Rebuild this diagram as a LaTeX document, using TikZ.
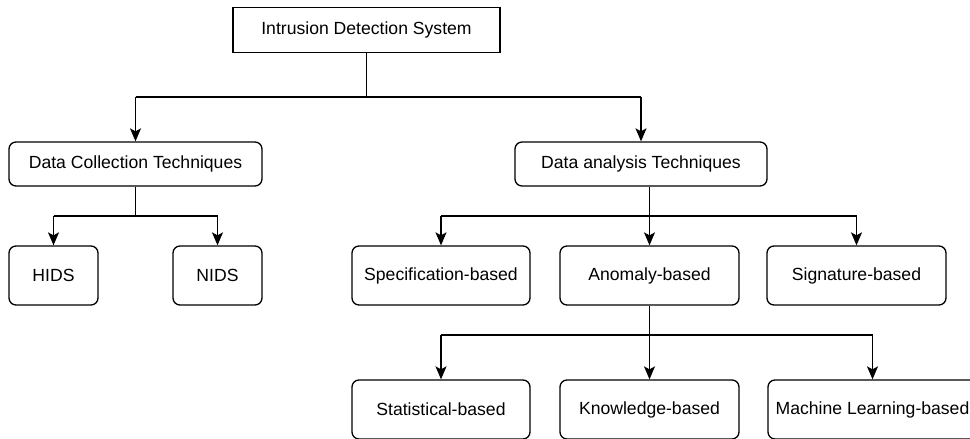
\documentclass[tikz,border=0pt]{standalone}
\usepackage{fontspec}
\setmainfont{Liberation Sans}
\usetikzlibrary{arrows.meta}
\begin{document}
\begin{tikzpicture}[x=1pt,y=-1pt,
  box/.style={draw, line width=1.3pt, inner sep=0pt, align=center,
    font=\fontsize{17.6}{20}\selectfont},
  rbox/.style={box, rounded corners=7pt},
  link/.style={line width=1.3pt},
  arrowlink/.style={link, -{Stealth[length=13pt,width=11pt,inset=3pt]}}]
\useasboundingbox (0,0) rectangle (970,439);

% root
\node[box, minimum width=267pt, minimum height=45pt] (ids) at (366.5,30) {Intrusion Detection System};

% first level
\node[rbox, minimum width=253pt, minimum height=44pt] (dct) at (135.5,164) {Data Collection Techniques};
\node[rbox, minimum width=252pt, minimum height=44pt] (dat) at (641,164) {Data analysis Techniques};

% data collection children
\node[rbox, minimum width=89pt, minimum height=59pt] (hids) at (53.5,275.5) {HIDS};
\node[rbox, minimum width=89pt, minimum height=59pt] (nids) at (217.5,275.5) {NIDS};

% data analysis children
\node[rbox, minimum width=178pt, minimum height=59pt] (spec) at (441,275.5) {Specification-based};
\node[rbox, minimum width=179pt, minimum height=59pt] (anom) at (649.5,275.5) {Anomaly-based};
\node[rbox, minimum width=179pt, minimum height=59pt] (sig) at (856.5,275.5) {Signature-based};

% anomaly-based children
\node[rbox, minimum width=178pt, minimum height=59pt] (stat) at (441,409.5) {Statistical-based};
\node[rbox, minimum width=179pt, minimum height=59pt] (know) at (649.5,409.5) {Knowledge-based};
\node[rbox, minimum width=209pt, minimum height=59pt] (ml) at (872.5,409.5) {Machine Learning-based};

% branch rails
\coordinate (j1) at (366.5,97);
\coordinate (j2) at (135.5,216);
\coordinate (j3) at (649.5,216);
\coordinate (j4) at (649.5,335);

% root -> first level
\draw[link] (ids.south) -- (j1);
\draw[link] (j1 -| dct.north) -- (j1 -| dat.north);
\draw[arrowlink] (j1 -| dct.north) -- (dct.north);
\draw[arrowlink] (j1 -| dat.north) -- (dat.north);

% data collection -> HIDS / NIDS
\draw[link] (dct.south) -- (j2);
\draw[link] (j2 -| hids.north) -- (j2 -| nids.north);
\draw[arrowlink] (j2 -| hids.north) -- (hids.north);
\draw[arrowlink] (j2 -| nids.north) -- (nids.north);

% data analysis -> three families
\draw[link] (j3 -| spec.north) -- (j3 -| sig.north);
\draw[arrowlink] (dat.south -| anom.north) -- (anom.north);
\draw[arrowlink] (j3 -| spec.north) -- (spec.north);
\draw[arrowlink] (j3 -| sig.north) -- (sig.north);

% anomaly-based -> three approaches
\draw[link] (j4 -| stat.north) -- (j4 -| ml.north);
\draw[arrowlink] (anom.south) -- (know.north);
\draw[arrowlink] (j4 -| stat.north) -- (stat.north);
\draw[arrowlink] (j4 -| ml.north) -- (ml.north);
\end{tikzpicture}
\end{document}
